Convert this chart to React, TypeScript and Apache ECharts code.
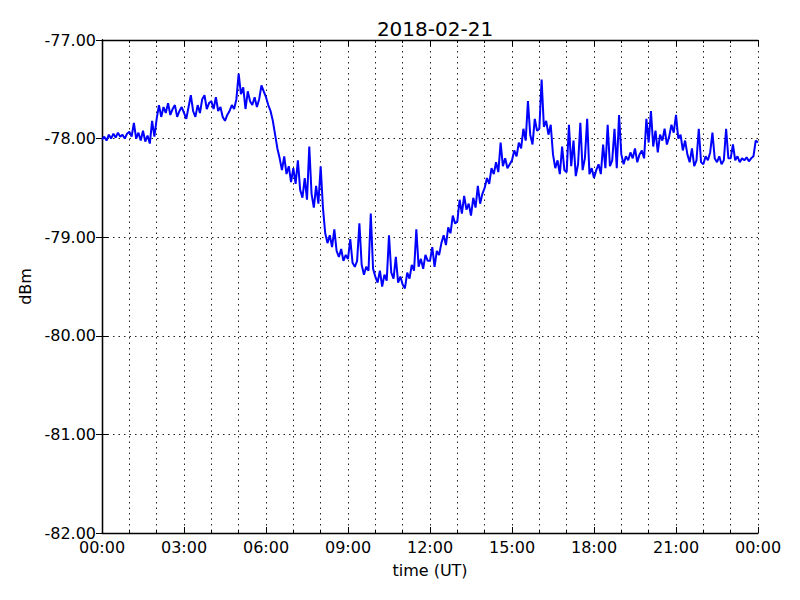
import React, { useEffect, useRef } from "react";
import * as echarts from "echarts";

const TITLE = "2018-02-21";
const X_NAME = "time (UT)";
const Y_NAME = "dBm";
const STEP_MIN = 5; // one reading every 5 minutes

// readings (dBm), one array per hour, 12 readings each
const h00 = [-78.01, -77.98, -78.02, -77.96, -78.0, -77.95, -77.99, -77.94, -77.98, -77.96, -78.0, -77.95];
const h01 = [-77.93, -77.98, -77.84, -78.0, -77.94, -78.02, -77.92, -78.03, -77.97, -78.05, -77.82, -77.98];
const h02 = [-77.8, -77.66, -77.78, -77.68, -77.74, -77.64, -77.76, -77.7, -77.66, -77.78, -77.72, -77.68];
const h03 = [-77.74, -77.8, -77.68, -77.56, -77.72, -77.78, -77.66, -77.74, -77.6, -77.56, -77.7, -77.64];
const h04 = [-77.62, -77.7, -77.58, -77.72, -77.68, -77.78, -77.82, -77.76, -77.72, -77.66, -77.7, -77.6];
const h05 = [-77.34, -77.55, -77.48, -77.7, -77.52, -77.62, -77.66, -77.58, -77.68, -77.6, -77.46, -77.52];
const h06 = [-77.58, -77.66, -77.72, -77.82, -77.96, -78.1, -78.2, -78.32, -78.18, -78.36, -78.28, -78.44];
const h07 = [-78.3, -78.46, -78.22, -78.52, -78.6, -78.4, -78.62, -78.08, -78.56, -78.7, -78.48, -78.66];
const h08 = [-78.28, -78.7, -78.96, -79.06, -78.98, -79.1, -78.92, -79.14, -79.2, -79.12, -79.24, -79.18];
const h09 = [-79.22, -79.02, -79.26, -79.3, -79.24, -78.86, -79.28, -79.38, -79.3, -79.34, -78.76, -79.32];
const h10 = [-79.4, -79.46, -79.34, -79.5, -79.38, -79.44, -78.98, -79.36, -79.42, -79.2, -79.46, -79.4];
const h11 = [-79.48, -79.52, -79.36, -79.42, -79.28, -79.34, -78.92, -79.3, -79.22, -79.32, -79.18, -79.24];
const h12 = [-79.24, -79.1, -79.3, -79.14, -79.18, -79.06, -78.98, -79.08, -78.9, -78.96, -78.78, -78.86];
const h13 = [-78.84, -78.62, -78.76, -78.58, -78.72, -78.66, -78.78, -78.6, -78.7, -78.48, -78.66, -78.56];
const h14 = [-78.5, -78.4, -78.46, -78.3, -78.36, -78.24, -78.34, -78.04, -78.28, -78.2, -78.3, -78.26];
const h15 = [-78.22, -78.12, -78.18, -78.04, -78.1, -77.9, -78.02, -77.62, -77.96, -78.06, -77.8, -77.92];
const h16 = [-77.9, -77.4, -77.88, -77.82, -77.96, -77.86, -78.16, -78.3, -78.22, -78.36, -78.08, -78.32];
const h17 = [-78.34, -77.86, -78.28, -78.02, -78.38, -78.26, -77.84, -78.32, -78.2, -77.8, -78.36, -78.3];
const h18 = [-78.4, -78.32, -78.26, -78.36, -78.06, -78.3, -77.86, -78.28, -78.22, -77.9, -78.3, -77.76];
const h19 = [-78.16, -78.26, -78.18, -78.22, -78.14, -78.2, -78.1, -78.24, -78.16, -78.12, -78.2, -77.8];
const h20 = [-78.04, -77.72, -78.08, -77.92, -78.14, -77.96, -78.02, -77.9, -78.06, -77.98, -77.86, -77.94];
const h21 = [-77.76, -78.0, -77.96, -78.12, -78.02, -78.16, -78.24, -78.1, -78.28, -78.22, -77.9, -78.24];
const h22 = [-78.26, -78.18, -78.22, -78.14, -77.94, -78.2, -78.24, -78.18, -78.26, -78.22, -77.9, -78.2];
const h23 = [-78.2, -78.06, -78.22, -78.18, -78.24, -78.2, -78.22, -78.19, -78.23, -78.2, -78.18, -78.02];
const hEnd = [-78.04];

const Y_MIN = -82;
const Y_MAX = -77;
const X_MIN = 0;
const X_MAX = 1440;
const X_INTERVAL = 180;

const FONT = "DejaVu Sans";

export default function App() {
  const ref = useRef<HTMLDivElement>(null);

  useEffect(() => {
    if (!ref.current) return;
    const chart = echarts.init(ref.current, undefined, { renderer: "svg" });
    const values = [
      ...h00, ...h01, ...h02, ...h03, ...h04, ...h05, ...h06, ...h07,
      ...h08, ...h09, ...h10, ...h11, ...h12, ...h13, ...h14, ...h15,
      ...h16, ...h17, ...h18, ...h19, ...h20, ...h21, ...h22, ...h23, ...hEnd,
    ];
    const data = values.map((v, i) => [i * STEP_MIN, v]);
    const fmtTime = (m: number) => {
      const hh = Math.floor(m / 60) % 24;
      const mm = Math.round(m % 60);
      return String(hh).padStart(2, "0") + ":" + String(mm).padStart(2, "0");
    };
    const gridDotted = { show: true, lineStyle: { color: "#222", type: [1.5, 4] as any, width: 1 } };
    const frame = { show: true, lineStyle: { color: "#000", width: 1.3 } };

    chart.setOption({
      animation: false,
      backgroundColor: "#fff",
      textStyle: { fontFamily: FONT },
      title: {
        text: TITLE,
        left: 430,
        top: 14,
        textAlign: "center",
        textStyle: { fontFamily: FONT, fontSize: 20, fontWeight: "normal", color: "#000" },
      },
      grid: {
        left: 102,
        right: 42,
        top: 40,
        bottom: 67,
        show: false,
      },
      xAxis: [
        {
          type: "value",
          min: X_MIN,
          max: X_MAX,
          interval: X_INTERVAL,
          name: X_NAME,
          nameLocation: "middle",
          nameGap: 29,
          nameTextStyle: { fontFamily: FONT, fontSize: 16, color: "#000" },
          axisLine: frame,
          axisTick: { show: true, inside: true, length: 6, lineStyle: { color: "#000" } },
          minorTick: { show: true, splitNumber: 3, length: 3, lineStyle: { color: "#000" } },
          axisLabel: {
            formatter: (v: number) => fmtTime(v),
            fontFamily: FONT,
            fontSize: 16,
            color: "#000",
            margin: 6,
          },
          splitLine: gridDotted,
          minorSplitLine: gridDotted,
        },
        {
          type: "value",
          position: "top",
          min: X_MIN,
          max: X_MAX,
          interval: X_INTERVAL,
          axisLine: frame,
          axisTick: { show: true, inside: true, length: 6, lineStyle: { color: "#000" } },
          minorTick: { show: true, splitNumber: 3, length: 3, lineStyle: { color: "#000" } },
          axisLabel: { show: false },
          splitLine: { show: false },
        },
      ],
      yAxis: [
        {
          type: "value",
          min: Y_MIN,
          max: Y_MAX,
          interval: 1,
          name: Y_NAME,
          nameLocation: "middle",
          nameGap: 67,
          nameRotate: 90,
          nameTextStyle: { fontFamily: FONT, fontSize: 16, color: "#000" },
          axisLine: frame,
          axisTick: { show: true, inside: true, length: 6, lineStyle: { color: "#000" } },
          axisLabel: {
            formatter: (v: number) => v.toFixed(2),
            fontFamily: FONT,
            fontSize: 16,
            color: "#000",
            margin: 6,
          },
          splitLine: gridDotted,
        },
        {
          type: "value",
          position: "right",
          min: Y_MIN,
          max: Y_MAX,
          interval: 1,
          axisLine: frame,
          axisTick: { show: true, inside: true, length: 6, lineStyle: { color: "#000" } },
          axisLabel: { show: false },
          splitLine: { show: false },
        },
      ],
      series: [
        {
          type: "line",
          data,
          xAxisIndex: 0,
          yAxisIndex: 0,
          showSymbol: false,
          symbol: "none",
          lineStyle: { color: "#0000ff", width: 2 },
          itemStyle: { color: "#0000ff" },
        },
      ],
    });
    return () => chart.dispose();
  }, []);

  return <div ref={ref} style={{ width: 800, height: 600, position: "absolute", left: 0, top: 0 }} />;
}
